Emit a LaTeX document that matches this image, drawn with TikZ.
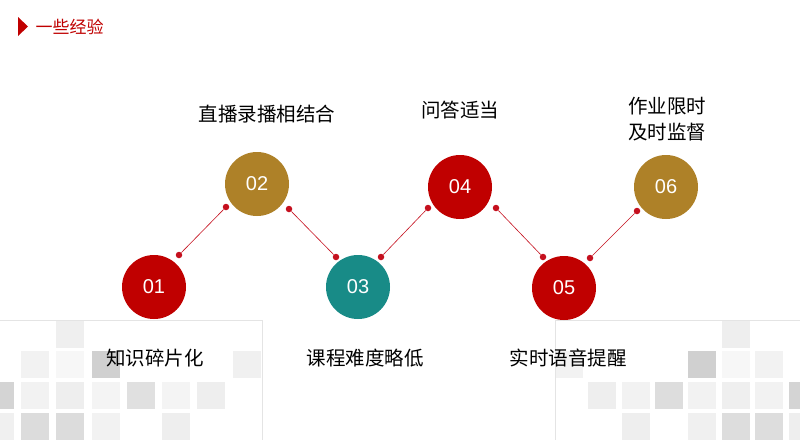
\documentclass[tikz,border=0pt]{standalone}
\usepackage{fontspec}
\setmainfont{Liberation Sans}
\newfontfamily\cjk{Noto Sans CJK SC}
\definecolor{myred}{HTML}{C00000}
\definecolor{mygold}{HTML}{AE8128}
\definecolor{myteal}{HTML}{188B87}
\definecolor{dotred}{HTML}{C5101E}
\definecolor{panelline}{HTML}{E4E4E4}
\begin{document}
\begin{tikzpicture}[x=1pt,y=-1pt,
  numcircle/.style={circle,minimum size=64pt,inner sep=0pt,text=white,font=\fontsize{20}{22}\selectfont},
  dotnode/.style={circle,fill=dotred,minimum size=6.5pt,inner sep=0pt},
  link/.style={draw=dotred,line width=0.6pt},
  lbl/.style={font=\cjk\fontsize{19.5}{26}\selectfont,text=black,align=center},
  sq/.style={draw=none}]
\useasboundingbox (0,0) rectangle (800,440);
\fill[white] (0,0) rectangle (800,440);
% background squares
\foreach \x/\y/\g in {56/321/EFEFEF, 21/351/F2F2F2, 56/351/F7F7F7, 92/351/D0D0D0, 233/351/F0F0F0,
  -14/382/D4D4D4, 21/382/F2F2F2, 56/382/EEEEEE, 92/382/F4F4F4, 127/382/E0E0E0, 162/382/F4F4F4, 197/382/EEEEEE,
  -14/413/F0F0F0, 21/413/DCDCDC, 56/413/DCDCDC, 92/413/F2F2F2, 162/413/EEEEEE,
  722/321/EEEEEE, 555/351/F2F2F2, 688/351/D0D0D0, 722/351/F7F7F7, 755/351/F2F2F2,
  588/382/EEEEEE, 622/382/F2F2F2, 655/382/DDDDDD, 688/382/F2F2F2, 722/382/EFEFEF, 755/382/F2F2F2, 789/382/D4D4D4,
  622/413/EEEEEE, 688/413/F0F0F0, 722/413/DDDDDD, 755/413/DDDDDD, 789/413/EEEEEE}
  {\definecolor{sqc}{HTML}{\g}\fill[sqc] (\x,\y) rectangle ++(28,27);}
% panel outlines
\draw[panelline,line width=0.8pt] (0,320) -- (262,320) -- (262,440);
\draw[panelline,line width=0.8pt] (800,320) -- (555,320) -- (555,440);
% title
\fill[myred] (18,17) -- (28,26.5) -- (18,36) -- cycle;
\node[anchor=west,text=myred,font=\cjk\fontsize{17}{19}\selectfont] (title) at (32,27) {一些经验};
% circles
\node[numcircle,fill=myred] (c1) at (154,287) {01};
\node[numcircle,fill=mygold] (c2) at (257,184) {02};
\node[numcircle,fill=myteal] (c3) at (358,287) {03};
\node[numcircle,fill=myred] (c4) at (460,187) {04};
\node[numcircle,fill=myred] (c5) at (564,288) {05};
\node[numcircle,fill=mygold] (c6) at (666,187) {06};
% dots
\node[dotnode] (d1a) at (179,255) {};
\node[dotnode] (d1b) at (226,207) {};
\node[dotnode] (d2a) at (289,209) {};
\node[dotnode] (d2b) at (336,257) {};
\node[dotnode] (d3a) at (381,257) {};
\node[dotnode] (d3b) at (428,208) {};
\node[dotnode] (d4a) at (496,208) {};
\node[dotnode] (d4b) at (543,257) {};
\node[dotnode] (d5a) at (590,258) {};
\node[dotnode] (d5b) at (637,211) {};
\draw[link] (d1a) -- (d1b);
\draw[link] (d2a) -- (d2b);
\draw[link] (d3a) -- (d3b);
\draw[link] (d4a) -- (d4b);
\draw[link] (d5a) -- (d5b);
% labels
\node[lbl] (l2) at (267,114) {直播录播相结合};
\node[lbl] (l4) at (460,110) {问答适当};
\node[lbl] (l6) at (667,119) {作业限时\\及时监督};
\node[lbl] (l1) at (155,358) {知识碎片化};
\node[lbl] (l3) at (365,358) {课程难度略低};
\node[lbl] (l5) at (568,358) {实时语音提醒};
\end{tikzpicture}
\end{document}
